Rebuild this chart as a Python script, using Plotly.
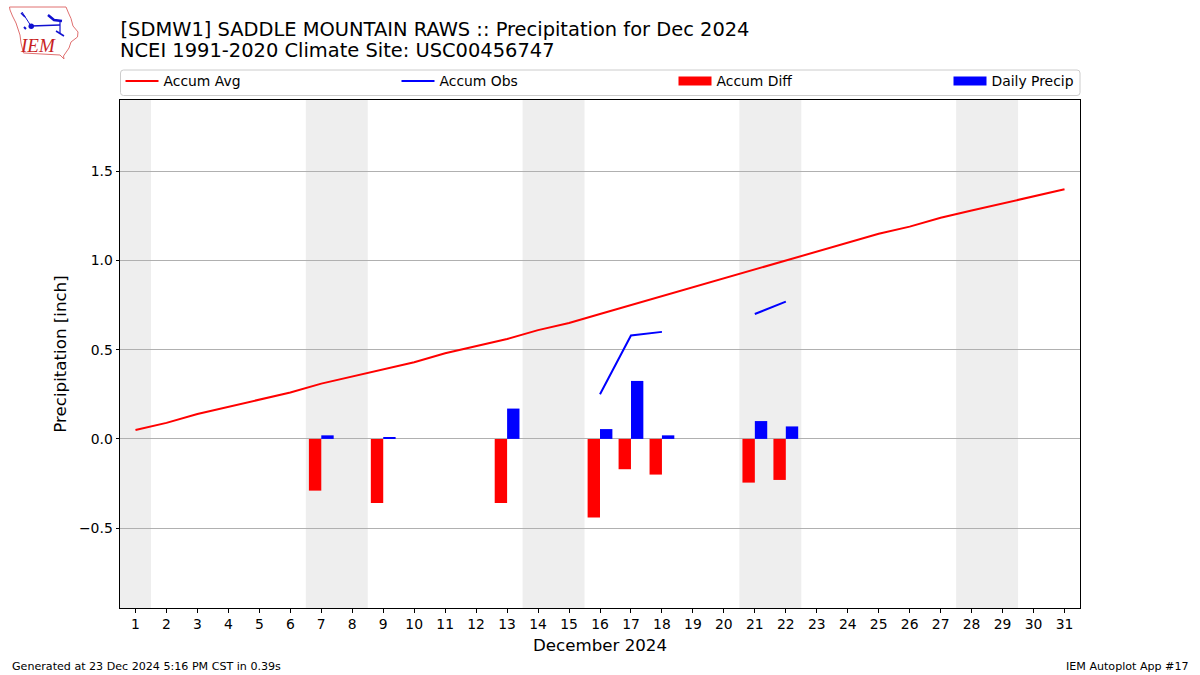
import plotly.graph_objects as go

days = list(range(1, 32))
accum_avg = [0.05, 0.09, 0.14, 0.18, 0.22, 0.26, 0.31, 0.35, 0.39, 0.43, 0.48, 0.52, 0.56, 0.61, 0.65, 0.70,
             0.75, 0.80, 0.85, 0.90, 0.95, 1.00, 1.05, 1.10, 1.15, 1.19, 1.24, 1.28, 1.32, 1.36, 1.40]
obs_days = [16, 17, 18, 19, 20, 21, 22]
accum_obs = [0.25, 0.58, 0.60, None, None, 0.70, 0.77]
rain_days = [7, 9, 13, 16, 17, 18, 21, 22]
accum_diff = [-0.29, -0.36, -0.36, -0.44, -0.17, -0.20, -0.245, -0.23]
daily_precip = [0.02, 0.01, 0.17, 0.055, 0.325, 0.02, 0.10, 0.07]
weekends = [(0.5, 1.5), (6.5, 8.5), (13.5, 15.5), (20.5, 22.5), (27.5, 29.5)]
title_1 = "[SDMW1] SADDLE MOUNTAIN RAWS :: Precipitation for Dec 2024"
title_2 = "NCEI 1991-2020 Climate Site: USC00456747"
foot_l = "Generated at 23 Dec 2024 5:16 PM CST in 0.39s"
foot_r = "IEM Autoplot App #17"
FONT = "DejaVu Sans"
W, H = 1200, 675
L, R, T, B = 120, 1080, 100, 608


def px(x):
    return (x - L) / (R - L)


def py(y):
    return (B - y) / (B - T)


def path(points, close=False):
    s = "M" + " L".join(f"{px(a):.5f},{py(b):.5f}" for a, b in points)
    return s + (" Z" if close else "")


fig = go.Figure()
fig.add_trace(go.Bar(x=rain_days, y=accum_diff, width=0.4, offset=-0.4, marker=dict(color="#ff0000", line_width=0),
                     showlegend=False, name="Accum Diff"))
fig.add_trace(go.Bar(x=rain_days, y=daily_precip, width=0.4, offset=0, marker=dict(color="#0000ff", line_width=0),
                     showlegend=False, name="Daily Precip"))
fig.add_trace(go.Scatter(x=days, y=accum_avg, mode="lines", name="Accum Avg", line=dict(color="#ff0000", width=2),
                         legend="legend"))
fig.add_trace(go.Scatter(x=obs_days, y=accum_obs, mode="lines", name="Accum Obs", line=dict(color="#0000ff", width=2),
                         connectgaps=False, legend="legend2"))
fig.add_trace(go.Scatter(x=[None], y=[None], mode="lines", name="Accum Diff", line=dict(color="#ff0000", width=9),
                         legend="legend3"))
fig.add_trace(go.Scatter(x=[None], y=[None], mode="lines", name="Daily Precip", line=dict(color="#0000ff", width=9),
                         legend="legend4"))

shapes = [dict(type="rect", xref="x", yref="paper", x0=a, x1=b, y0=0, y1=1, fillcolor="#eeeeee",
               line_width=0, layer="below") for a, b in weekends]

# rounded legend frame
x0, x1, y0, y1, r = 120.5, 1080, 70, 95.5, 3
frame = (f"M{px(x0 + r)},{py(y0)} L{px(x1 - r)},{py(y0)} Q{px(x1)},{py(y0)} {px(x1)},{py(y0 + r)} "
         f"L{px(x1)},{py(y1 - r)} Q{px(x1)},{py(y1)} {px(x1 - r)},{py(y1)} L{px(x0 + r)},{py(y1)} "
         f"Q{px(x0)},{py(y1)} {px(x0)},{py(y1 - r)} L{px(x0)},{py(y0 + r)} Q{px(x0)},{py(y0)} {px(x0 + r)},{py(y0)} Z")
shapes.append(dict(type="path", xref="paper", yref="paper", path=frame, line=dict(color="#cccccc", width=1),
                   fillcolor="white", layer="below"))

# IEM logo
outline = [(9.5, 7), (66, 7), (68.5, 13), (71, 18.5), (73, 26), (78, 32), (77.5, 37), (71, 42), (69, 48), (63.5, 56),
           (64, 59), (60, 55), (23.5, 53), (21, 43), (20, 35), (16, 23), (12.5, 16), (10, 10)]
shapes.append(dict(type="path", xref="paper", yref="paper", path=path(outline, True),
                   line=dict(color="#e07070", width=1), fillcolor="white"))
for seg, w in [([(31, 26), (60, 25)], 1.5), ([(22, 12), (31, 26)], 1), ([(21, 13), (25, 17)], 1.5),
               ([(48, 15), (54, 20), (62, 21)], 2.5), ([(60, 22), (60, 33)], 1.2), ([(56, 31), (64, 36)], 1.5),
               ([(24, 27), (26, 29)], 2)]:
    shapes.append(dict(type="path", xref="paper", yref="paper", path=path(seg), line=dict(color="#1010d0", width=w)))
shapes.append(dict(type="circle", xref="paper", yref="paper", x0=px(28.5), x1=px(34), y0=py(29), y1=py(23.5),
                   fillcolor="#1010d0", line_width=0))

annos = [
    dict(text=title_2, x=px(117.5), y=py(51), xanchor="left", yanchor="middle", font=dict(size=19.44, color="black")),
    dict(text=foot_l, x=px(9.5), y=py(666), xanchor="left", yanchor="middle", font=dict(size=11.1, color="black")),
    dict(text=foot_r, x=px(1190.5), y=py(666), xanchor="right", yanchor="middle", font=dict(size=11.1, color="black")),
    dict(text="<i>IEM</i>", x=px(37.5), y=py(45.5), xanchor="center", yanchor="middle",
         font=dict(size=19, color="#c81e1e", family="Liberation Serif")),
]
for a in annos:
    a.update(xref="paper", yref="paper", showarrow=False)


def legend_at(x):
    return dict(orientation="h", xref="container", x=x / W, xanchor="left", yref="container", y=1 - 81.5 / H,
                yanchor="middle", bgcolor="rgba(0,0,0,0)", borderwidth=0, font=dict(size=13.9), itemwidth=33)


fig.update_layout(
    width=W, height=H, autosize=False,
    margin=dict(l=L, r=W - R, t=T, b=H - B, pad=0, autoexpand=False),
    paper_bgcolor="white", plot_bgcolor="white",
    font=dict(family=FONT, size=13.9, color="black"),
    title=dict(text=title_1, x=120.5 / W, xref="container", xanchor="left", y=1 - 29 / H, yanchor="middle",
               yref="container", font=dict(size=19.44, color="black")),
    barmode="overlay",
    shapes=shapes, annotations=annos,
    legend=legend_at(120.5), legend2=legend_at(396.5), legend3=legend_at(673.5), legend4=legend_at(948.5),
    xaxis=dict(range=[0.5, 31.5], tickmode="array", tickvals=days, ticktext=[str(d) for d in days], ticks="outside",
               ticklen=3.5, tickwidth=1, tickcolor="black", showgrid=False, zeroline=False, showline=True, mirror=True,
               linecolor="black", linewidth=1, tickangle=0,
               title=dict(text="December 2024", font=dict(size=16.67), standoff=8)),
    yaxis=dict(range=[-0.948, 1.9], tickmode="array", tickvals=[-0.5, 0, 0.5, 1.0, 1.5],
               ticktext=["\u22120.5", "0.0", "0.5", "1.0", "1.5"], ticks="outside", ticklen=3.5, tickwidth=1,
               tickcolor="black", showgrid=True, gridcolor="#b0b0b0", gridwidth=1, zeroline=False, showline=True,
               mirror=True, linecolor="black", linewidth=1,
               title=dict(text="Precipitation [inch]", font=dict(size=16.67), standoff=8)),
)
fig.write_html("out.html", post_script="document.body.style.margin='0';", config=dict(displayModeBar=False))
